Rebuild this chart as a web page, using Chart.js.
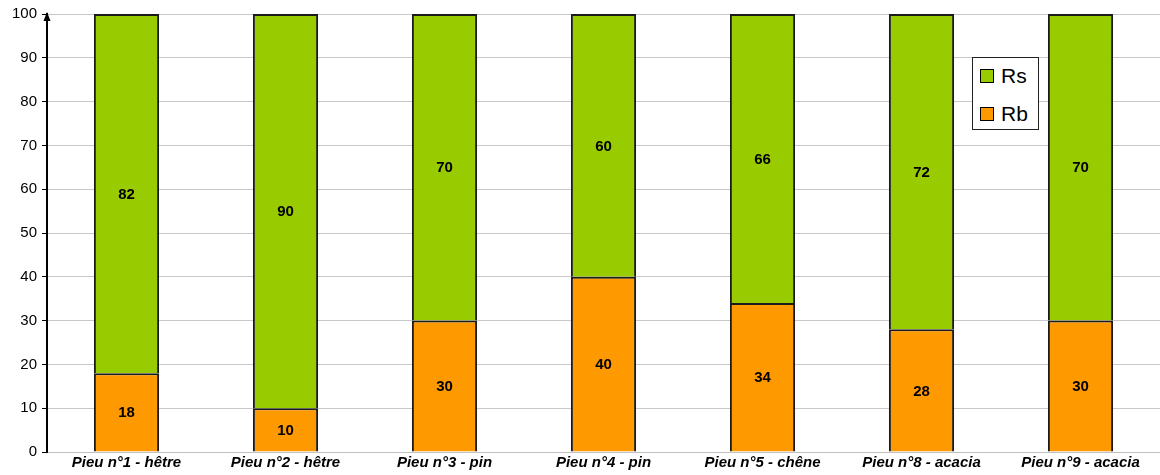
<!DOCTYPE html>
<html>
<head>
<meta charset="utf-8">
<script src="https://cdn.jsdelivr.net/npm/chart.js@4"></script>
<style>
  html, body { margin: 0; padding: 0; background: #fff; }
  #wrap { position: relative; width: 1160px; height: 475px; }
  #legend {
    position: absolute; left: 972px; top: 57px; width: 67px; height: 73px;
    border: 1px solid #222; background: #fff; box-sizing: border-box;
    font-family: "Liberation Sans", Arial, sans-serif; font-size: 21px; color: #000;
  }
  .item { position: absolute; left: 7px; display: flex; align-items: center; line-height: 24px; }
  .sw { width: 12px; height: 12px; border: 1px solid #000; margin-right: 7px; }
</style>
</head>
<body>
<div id="wrap">
  <canvas id="chart" width="1160" height="475"></canvas>
  <div id="legend">
    <div class="item" style="top:6px"><div class="sw" style="background:#99CC00"></div>Rs</div>
    <div class="item" style="top:44px"><div class="sw" style="background:#FF9900"></div>Rb</div>
  </div>
</div>
<script>
const categories = [
  "Pieu n°1 - hêtre",
  "Pieu n°2 - hêtre",
  "Pieu n°3 - pin",
  "Pieu n°4 - pin",
  "Pieu n°5 - chêne",
  "Pieu n°8 - acacia",
  "Pieu n°9 - acacia",
];
const rbValues = [18, 10, 30, 40, 34, 28, 30];
const rsValues = [82, 90, 70, 60, 66, 72, 70];

const fontFamily = '"Liberation Sans", Arial, sans-serif';

// value labels in the middle of each segment
const valueLabels = {
  id: "valueLabels",
  afterDatasetsDraw(chart) {
    const { ctx } = chart;
    ctx.save();
    ctx.font = "bold 15px " + fontFamily;
    ctx.fillStyle = "#000";
    ctx.textAlign = "center";
    ctx.textBaseline = "middle";
    chart.data.datasets.forEach((ds, i) => {
      chart.getDatasetMeta(i).data.forEach((bar, j) => {
        const p = bar.getCenterPoint();
        ctx.fillText(ds.data[j], p.x, p.y + 1);
      });
    });
    ctx.restore();
  },
};

// arrow head on top of the y axis
const axisArrow = {
  id: "axisArrow",
  afterDraw(chart) {
    const { ctx, chartArea } = chart;
    const x = chartArea.left;
    const y = chartArea.top;
    ctx.save();
    ctx.fillStyle = "#000";
    ctx.beginPath();
    ctx.moveTo(x, y - 2);
    ctx.lineTo(x - 3.5, y + 7);
    ctx.lineTo(x + 3.5, y + 7);
    ctx.closePath();
    ctx.fill();
    ctx.restore();
  },
};

new Chart(document.getElementById("chart"), {
  type: "bar",
  data: {
    labels: categories,
    datasets: [
      {
        label: "Rb",
        data: rbValues,
        backgroundColor: "#FF9900",
        borderColor: "#1a1a1a",
        borderWidth: 2,
        inflateAmount: 0,
      },
      {
        label: "Rs",
        data: rsValues,
        backgroundColor: "#99CC00",
        borderColor: "#1a1a1a",
        borderWidth: 2,
        inflateAmount: 0,
      },
    ],
  },
  options: {
    responsive: false,
    animation: false,
    layout: { padding: { top: 13, right: 0, left: 0, bottom: 0 } },
    datasets: { bar: { barPercentage: 0.41, categoryPercentage: 1 } },
    scales: {
      x: {
        stacked: true,
        grid: { display: false, drawTicks: false },
        border: { color: "#c0c0c0", width: 1 },
        ticks: {
          color: "#000",
          padding: 2,
          maxRotation: 0,
          font: { family: fontFamily, size: 15, weight: "bold", style: "italic" },
        },
        afterFit(scale) { scale.height = 23; },
      },
      y: {
        stacked: true,
        min: 0,
        max: 100,
        ticks: {
          stepSize: 10,
          color: "#000",
          padding: 5,
          font: { family: fontFamily, size: 15 },
        },
        grid: { color: "#c8c8c8", tickColor: "#000", tickLength: 5 },
        border: { color: "#000", width: 2 },
        afterFit(scale) { scale.width = 47; },
      },
    },
    plugins: {
      legend: { display: false },
      tooltip: { enabled: false },
    },
  },
  plugins: [valueLabels, axisArrow],
});
</script>
</body>
</html>
